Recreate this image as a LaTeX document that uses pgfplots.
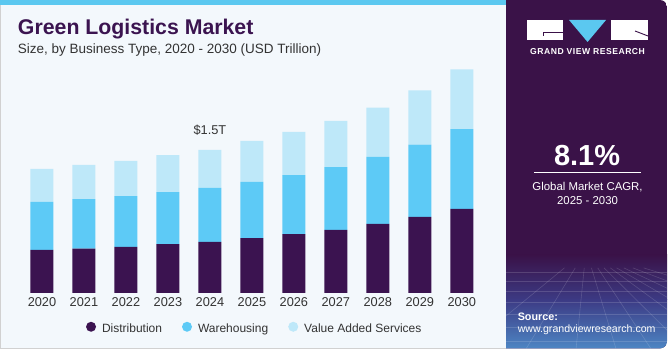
\documentclass[border=0pt]{standalone}
\usepackage{pgfplots}
\pgfplotsset{compat=1.18}
\usepackage{fontspec}
\setmainfont{Liberation Sans}
\definecolor{distc}{HTML}{3B1350}
\definecolor{warec}{HTML}{5DCAF6}
\definecolor{vasc}{HTML}{BEE8F9}
\definecolor{bgc}{HTML}{F3F8FC}
\definecolor{panelc}{HTML}{3A1248}
\definecolor{panelb}{HTML}{4D86C4}
\definecolor{panelm}{HTML}{3C3A84}
\definecolor{titc}{HTML}{3B1450}
\definecolor{labc}{HTML}{333333}
\definecolor{topb}{HTML}{5BC8F0}
\newcommand\fs[1]{\fontsize{#1bp}{#1bp}\selectfont}
\begin{document}
\begin{tikzpicture}
\begin{scope}[x=1bp,y=-1bp]
\path[use as bounding box] (0,0) rectangle (671,350);
\fill[white] (0,0) rectangle (671,350);
% panel
\begin{scope}
\clip[rounded corners=7bp] (490,0) rectangle (667,348.5);
\fill[panelc] (490,0) rectangle (667,349);
\shade[top color=panelc, bottom color=panelm] (490,255) rectangle (667,300);
\shade[top color=panelm, bottom color=panelb] (490,299.5) rectangle (667,349);
\begin{scope}[white, opacity=0.15, line width=0.6bp]
\foreach \yy in {272,281,291,302,314,327,341} {\draw (506,\yy) -- (667,\yy);}
\foreach \xx in {-120,-60,-10,30,65,100,135,170,210,260,320} {\draw (586+0.18*\xx,268) -- (586+\xx,349);}
\end{scope}
\end{scope}
% main background
\fill[bgc] (0,0) rectangle (506,348.5);
\draw[black!18, line width=1bp] (0.5,0) -- (0.5,348.5) -- (506,348.5);
\fill[topb] (0,0) rectangle (506,5);
% logo
\fill[white] (527,20) rectangle (563,40);
\fill[topb] (569,20) -- (606,20) -- (587.5,42) -- cycle;
\fill[white] (611,20) rectangle (648,40);
\draw[panelc, line width=0.9bp] (543,36) -- (543,32) -- (563,32);
\draw[panelc, line width=0.9bp] (635,31) -- (648,36);
\node[white, font=\fs{8.6}\bfseries\addfontfeatures{LetterSpace=6}, anchor=base] at (587.5,54.5) {GRAND VIEW RESEARCH};
% CAGR
\node[white, font=\fs{29}\bfseries, anchor=base] at (587,165.5) {8.1\%};
\draw[white, line width=0.8bp] (534,172.8) -- (641,172.8);
\node[white, font=\fs{11.4}, anchor=base] at (587.5,190.5) {Global Market CAGR,};
\node[white, font=\fs{11.4}, anchor=base] at (587.5,204.5) {2025 - 2030};
\node[white, font=\fs{10.8}\bfseries, anchor=base west, inner sep=0] at (517.5,320.3) {Source:};
\node[white, font=\fs{10.6}, anchor=base west, inner sep=0] at (517.5,332.5) {www.grandviewresearch.com};
% titles
\node[titc, font=\fs{21.3}\bfseries, anchor=base west, inner sep=0] at (17.5,35) {Green Logistics Market};
\node[labc, font=\fs{13.5}, anchor=base west, inner sep=0] at (17.3,53.3) {Size, by Business Type, 2020 - 2030 (USD Trillion)};
\end{scope}
\begin{axis}[
  at={(-0.3bp,-293bp)}, anchor=south west,
  x=42bp, y=95.3bp, scale only axis,
  xmin=-1, xmax=11, ymin=0, ymax=2.5,
  axis line style={draw=none}, clip=false,
  ytick=\empty, xtick={0,...,10}, major tick length=0,
  xticklabels={2020,2021,2022,2023,2024,2025,2026,2027,2028,2029,2030},
  xticklabel style={font=\fs{12.8}, text=labc, yshift=-1bp},
  ybar stacked, bar width=23bp,
  legend columns=3,
  legend style={at={(0.5036,-0.1469)}, anchor=center, draw=none, fill=none,
    font=\fs{12.0}, text=labc, nodes={inner sep=0pt},
    /tikz/every odd column/.append style={column sep=6bp},
    /tikz/every even column/.append style={column sep=20bp}},
]
\addplot[fill=distc, draw=none, legend image code/.code={\fill[distc] (5bp,0.4ex) circle (5bp);}] coordinates {
(0,0.451) (1,0.465) (2,0.483) (3,0.511) (4,0.535) (5,0.574) (6,0.616) (7,0.661) (8,0.724) (9,0.797) (10,0.881)};
\addplot[fill=warec, draw=none, legend image code/.code={\fill[warec] (5bp,0.4ex) circle (5bp);}] coordinates {
(0,0.504) (1,0.518) (2,0.532) (3,0.546) (4,0.567) (5,0.591) (6,0.619) (7,0.658) (8,0.703) (9,0.759) (10,0.839)};
\addplot[fill=vasc, draw=none, legend image code/.code={\fill[vasc] (5bp,0.4ex) circle (5bp);}] coordinates {
(0,0.346) (1,0.360) (2,0.370) (3,0.388) (4,0.399) (5,0.430) (6,0.454) (7,0.486) (8,0.517) (9,0.570) (10,0.626)};
\legend{Distribution,Warehousing,Value Added Services}
\node[labc, font=\fs{12.8}, anchor=base] at (axis cs:4,1.501) [yshift=15bp] {\$1.5T};
\end{axis}
\end{tikzpicture}
\end{document}
